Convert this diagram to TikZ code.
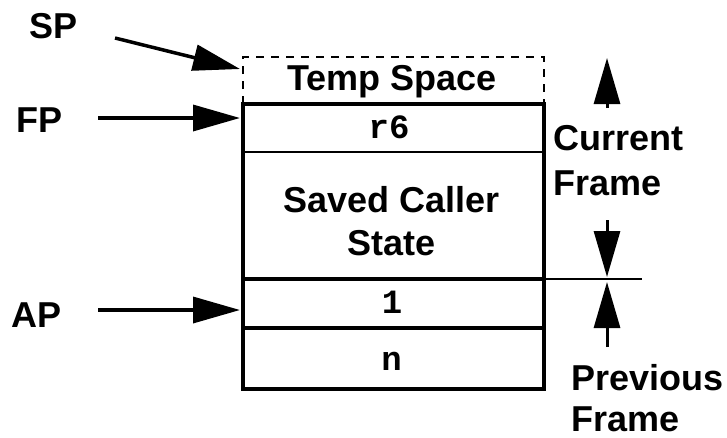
\documentclass[tikz,border=0pt]{standalone}
\usepackage{fontspec}
\setmainfont{Liberation Sans}
\setmonofont{Liberation Mono}
\usetikzlibrary{arrows.meta}
\tikzset{
  lbl/.style={font=\fontsize{36}{43}\selectfont\bfseries, inner sep=0pt, anchor=base},
  lblw/.style={lbl, anchor=base west},
  code/.style={font=\fontsize{34}{40}\selectfont\ttfamily\bfseries, inner sep=0pt, anchor=base},
  thickline/.style={line width=4.5pt},
  thinline/.style={line width=2pt},
  dashline/.style={line width=2pt, dash pattern=on 8pt off 7pt},
  ptr/.style={line width=3.5pt, -{Triangle[length=47pt,width=26pt]}},
  dim/.style={line width=3pt, -{Triangle[length=46pt,width=26pt]}}
}
\begin{document}
\begin{tikzpicture}[x=1pt,y=-1pt]
\useasboundingbox (0,0) rectangle (727,437);
% frame coordinates
\coordinate (tl) at (243,104);
\coordinate (br) at (544,389);
% temp space (dashed)
\draw[dashline] (243,104) -- (243,57) -- (544,57) -- (544,104);
% stack cells
\draw[thickline] (tl) rectangle (br);
\draw[thinline] (243,152) -- (544,152);
\draw[thickline] (243,279) -- (544,279);
\draw[thickline] (243,328) -- (544,328);
% texts in cells
\node[lbl] (temp) at (392,90) {Temp Space};
\node[code] (r6) at (389,138) {r6};
\node[lbl] (saved1) at (391.5,212) {Saved Caller};
\node[lbl] (saved2) at (391.5,255) {State};
\node[code] (one) at (392,313) {1};
\node[code] (n) at (391.5,370) {n};
% pointer labels
\node[lbl] (SP) at (53.5,38) {SP};
\node[lbl] (FP) at (39.5,132) {FP};
\node[lbl] (AP) at (37,327) {AP};
\coordinate (spstart) at (115,38);
\coordinate (sptip) at (240,69);
\coordinate (fpstart) at (98,118);
\coordinate (fptip) at (240,118);
\coordinate (apstart) at (98,310);
\coordinate (aptip) at (240,310);
\draw[ptr] (spstart) -- (sptip);
\draw[ptr] (fpstart) -- (fptip);
\draw[ptr] (apstart) -- (aptip);
% frame boundary and dimension arrows
\coordinate (bndL) at (544,279);
\coordinate (bndR) at (642,279);
\draw[line width=2.5pt] (bndL) -- (bndR);
\coordinate (cuA) at (607,108);
\coordinate (cuB) at (607,58);
\coordinate (cdA) at (607,220);
\coordinate (cdB) at (607,277);
\coordinate (puA) at (607,347);
\coordinate (puB) at (607,282);
\draw[dim] (cuA) -- (cuB);
\draw[dim] (cdA) -- (cdB);
\draw[dim] (puA) -- (puB);
% frame labels
\node[lblw] (cur1) at (553,150) {Current};
\node[lblw] (cur2) at (553,195) {Frame};
\node[lblw] (prev1) at (571,390) {Previous};
\node[lblw] (prev2) at (571,431) {Frame};
\end{tikzpicture}
\end{document}
